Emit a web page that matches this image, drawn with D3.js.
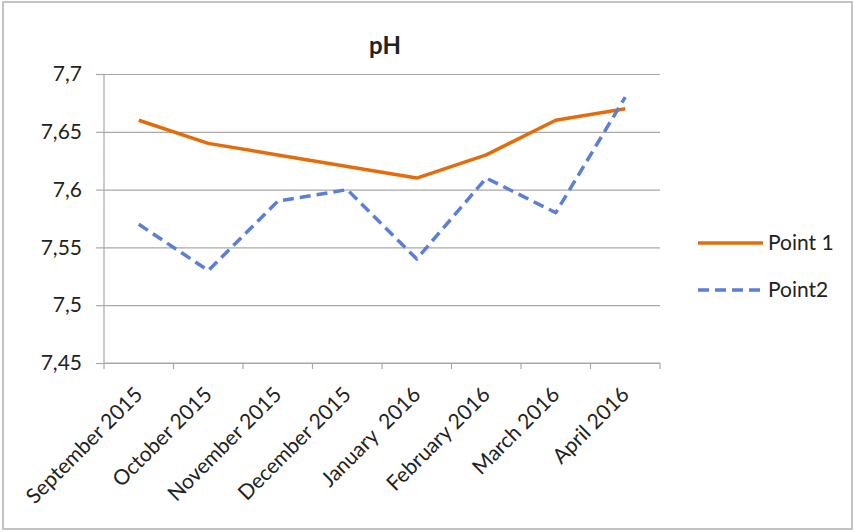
<!DOCTYPE html>
<html>
<head>
<meta charset="utf-8">
<script src="https://cdn.jsdelivr.net/npm/d3@7"></script>
<style>
  html, body { margin: 0; padding: 0; background: #fff; }
  svg { display: block; }
  text { font-family: Lato, "Open Sans", sans-serif; fill: #222; }
</style>
</head>
<body>
<svg id="chart" width="855" height="532"></svg>
<script>
// Monthly pH readings at two sampling points
const months = ["September 2015", "October 2015", "November 2015", "December 2015",
                "January  2016", "February 2016", "March 2016", "April 2016"];
const point1 = [7.66, 7.64, 7.63, 7.62, 7.61, 7.63, 7.66, 7.67];
const point2 = [7.57, 7.53, 7.59, 7.60, 7.54, 7.61, 7.58, 7.68];
const yTicks = [7.45, 7.5, 7.55, 7.6, 7.65, 7.7];
const seriesNames = ["Point 1", "Point2"];

const svg = d3.select("#chart");
const W = 855, H = 532;
const plot = { left: 104, right: 660, top: 74, bottom: 363 };

// outer chart frame
svg.append("rect")
  .attr("x", 3).attr("y", 2).attr("width", W - 6).attr("height", H - 5)
  .attr("fill", "#fff").attr("stroke", "#c4c4c4").attr("stroke-width", 2);

const x = d3.scaleBand().domain(months).range([plot.left, plot.right]).padding(0);
const y = d3.scaleLinear().domain([7.45, 7.7]).range([plot.bottom, plot.top]);
const cx = m => x(m) + x.bandwidth() / 2;

// horizontal gridlines + y axis labels
const yAxis = d3.axisLeft(y).tickValues(yTicks)
  .tickSize(-(plot.right - plot.left))
  .tickPadding(22)
  .tickFormat(d => d3.format(".2~f")(d).replace(".", ","));
const gy = svg.append("g").attr("transform", `translate(${plot.left},0)`).call(yAxis);
gy.select(".domain").remove();
gy.selectAll(".tick line").attr("stroke", "#a8a8a8").attr("stroke-width", 1.2);
gy.selectAll(".tick text").attr("font-size", 21).attr("fill", "#222");
// short outer tick stubs left of the axis
gy.selectAll(".tick").append("line")
  .attr("x1", -8).attr("x2", 0).attr("stroke", "#a8a8a8").attr("stroke-width", 1.2);

// vertical axis line
svg.append("line")
  .attr("x1", plot.left).attr("x2", plot.left)
  .attr("y1", plot.top).attr("y2", plot.bottom)
  .attr("stroke", "#a8a8a8").attr("stroke-width", 1.2);

// category axis: tick marks sit on band boundaries
const gx = svg.append("g").attr("transform", `translate(0,${plot.bottom})`);
gx.append("line").attr("x1", plot.left).attr("x2", plot.right)
  .attr("stroke", "#a8a8a8").attr("stroke-width", 1.2);
const edges = months.map(m => x(m)).concat([x(months[months.length - 1]) + x.bandwidth()]);
gx.selectAll("line.edge").data(edges).join("line").attr("class", "edge")
  .attr("x1", d => d).attr("x2", d => d).attr("y1", 0).attr("y2", 6)
  .attr("stroke", "#a8a8a8").attr("stroke-width", 1.2);
gx.selectAll("text").data(months).join("text")
  .attr("transform", m => `translate(${cx(m) + 5},${33}) rotate(-45)`)
  .attr("text-anchor", "end")
  .attr("font-size", 21)
  .style("white-space", "pre")
  .text(m => m);

// title
svg.append("text")
  .attr("x", (plot.left + plot.right) / 2 + 3).attr("y", 54)
  .attr("text-anchor", "middle").attr("font-size", 24).attr("font-weight", "bold")
  .text("pH");

// series lines
const line = d3.line().x((d, i) => cx(months[i])).y(d => y(d));
const styles = [
  { color: "#E46C0A", dash: null },
  { color: "#5B7FD6", dash: "11,6" }
];
[point1, point2].forEach((vals, i) => {
  svg.append("path").datum(vals)
    .attr("d", line)
    .attr("fill", "none")
    .attr("stroke", styles[i].color)
    .attr("stroke-width", 3.5)
    .attr("stroke-dasharray", styles[i].dash)
    .attr("stroke-linejoin", "round");
});

// legend
const lg = svg.append("g");
seriesNames.forEach((name, i) => {
  const ly = 243 + i * 47;
  lg.append("line")
    .attr("x1", 698).attr("x2", 763).attr("y1", ly).attr("y2", ly)
    .attr("stroke", styles[i].color).attr("stroke-width", 3.5)
    .attr("stroke-dasharray", styles[i].dash);
  lg.append("text")
    .attr("x", 768).attr("y", ly).attr("dy", "0.35em")
    .attr("font-size", 21).text(name);
});
</script>
</body>
</html>
